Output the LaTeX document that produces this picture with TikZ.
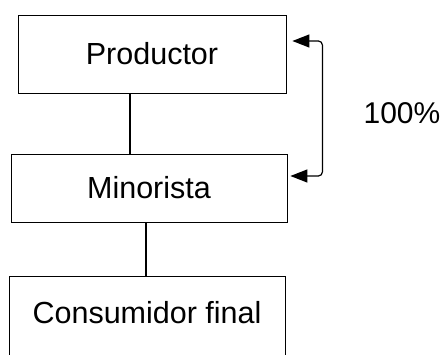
\documentclass[tikz,border=0pt]{standalone}
\usepackage{fontspec}
\setmainfont{Liberation Sans}
\usetikzlibrary{arrows.meta}
\begin{document}
\begin{tikzpicture}[x=1pt,y=1pt,
	box/.style={draw,line width=0.8pt,inner sep=0pt,font=\fontsize{30.5}{36}\selectfont},
	link/.style={line width=1.3pt},
	flow/.style={line width=1.2pt,rounded corners=4pt,{Triangle[length=17pt,width=13pt]}-{Triangle[length=17pt,width=13pt]}}]
	\useasboundingbox (0,0) rectangle (442,354);
	
	\node[box,minimum width=268,minimum height=78] (prod) at (152,300) {Productor};
	\node[box,minimum width=276,minimum height=68] (mino) at (149,166) {Minorista};
	\node[box,minimum width=276,minimum height=82,text depth=10pt] (cons) at (147,37) {Consumidor final};
	
	\draw[link] ([xshift=-22pt]prod.south) -- ([xshift=-22pt]prod.south |- mino.north);
	\draw[link] ([xshift=-3pt]mino.south) -- ([xshift=-3pt]mino.south |- cons.north);
	
	\draw[flow] ([shift={(6pt,13pt)}]prod.east) -- ++(30pt,0) |- ([shift={(3pt,12pt)}]mino.east);
	
	\node[font=\fontsize{30}{36}\selectfont] (pct) at (402,241) {100\%};
\end{tikzpicture}
\end{document}
